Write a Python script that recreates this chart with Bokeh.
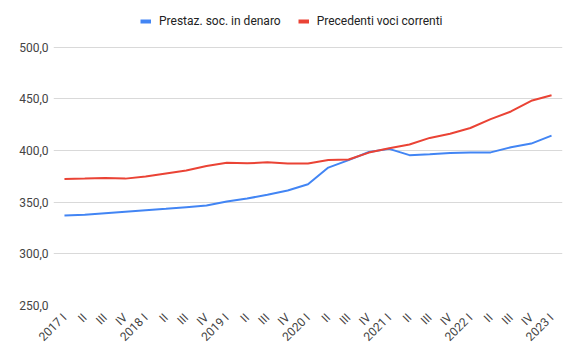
import math
from bokeh.plotting import figure
from bokeh.models import FixedTicker, Legend, LegendItem, ColumnDataSource
from bokeh.embed import file_html
from bokeh.resources import INLINE

quarters = ["2017 I", "II", "III", "IV", "2018 I", "II", "III", "IV",
            "2019 I", "II", "III", "IV", "2020 I", "II", "III", "IV",
            "2021 I", "II", "III", "IV", "2022 I", "II", "III", "IV", "2023 I"]
prestaz = [337.0, 337.8, 339.3, 340.8, 342.2, 343.6, 345.2, 346.8, 350.6, 353.6,
           357.1, 361.3, 367.4, 383.5, 390.7, 398.6, 401.6, 395.5, 396.5, 397.6,
           398.2, 398.2, 403.2, 406.7, 414.4]
precedenti = [372.4, 372.8, 373.3, 372.8, 374.8, 377.8, 380.7, 385.0, 388.2, 387.6,
              388.6, 387.4, 387.4, 390.8, 391.3, 398.0, 402.2, 405.8, 412.2, 416.3,
              421.8, 430.4, 437.8, 448.1, 453.5]
yticks = [250, 300, 350, 400, 450, 500]
series_names = ["Prestaz. soc. in denaro", "Precedenti voci correnti"]
colors = ["#4285F4", "#EA4335"]

xs = list(range(len(quarters)))
src = ColumnDataSource(dict(x=xs, a=prestaz, b=precedenti))

# frame extends above 500 so that the legend sits inside it
p = figure(width=564, height=351, output_backend="svg", toolbar_location=None,
           x_range=(-0.54, 24.54), y_range=(250, 545.2),
           min_border_left=53, min_border_right=2, min_border_top=0,
           min_border_bottom=44)
p.outline_line_color = None
p.xgrid.grid_line_color = None
p.ygrid.grid_line_color = "#d9d9d9"
p.ygrid.grid_line_width = 1

l1 = p.line("x", "a", source=src, line_color=colors[0], line_width=2)
l2 = p.line("x", "b", source=src, line_color=colors[1], line_width=2)

# legend swatches (thicker); a single NaN point so nothing is plotted
nan = float("nan")
d1 = p.line(x=[nan], y=[nan], line_color=colors[0], line_width=4)
d2 = p.line(x=[nan], y=[nan], line_color=colors[1], line_width=4)

p.yaxis.ticker = FixedTicker(ticks=yticks)
p.yaxis.major_label_overrides = {t: f"{t},0" for t in yticks}
p.xaxis.ticker = FixedTicker(ticks=xs)
p.xaxis.major_label_overrides = {i: q for i, q in enumerate(quarters)}
p.xaxis.major_label_orientation = math.pi / 4

for ax in (p.xaxis, p.yaxis):
    ax.axis_line_color = None
    ax.major_tick_line_color = None
    ax.minor_tick_line_color = None
    ax.major_tick_out = 0
    ax.major_tick_in = 0
    ax.major_label_text_font = "Roboto"
    ax.major_label_text_font_size = "12px"
    ax.major_label_text_color = "#444444"
p.yaxis.major_label_standoff = 5
p.xaxis.major_label_standoff = 10

legend = Legend(items=[LegendItem(label=series_names[0], renderers=[d1]),
                       LegendItem(label=series_names[1], renderers=[d2])],
                location=(87, 277), orientation="horizontal",
                border_line_color=None, background_fill_alpha=0,
                padding=0, margin=0, spacing=17, label_standoff=8,
                glyph_width=11, glyph_height=14, label_height=14,
                label_text_font="Roboto", label_text_font_size="12px",
                label_text_color="#222222")
p.add_layout(legend, "center")

open("out.html", "w").write(file_html(p, INLINE))
